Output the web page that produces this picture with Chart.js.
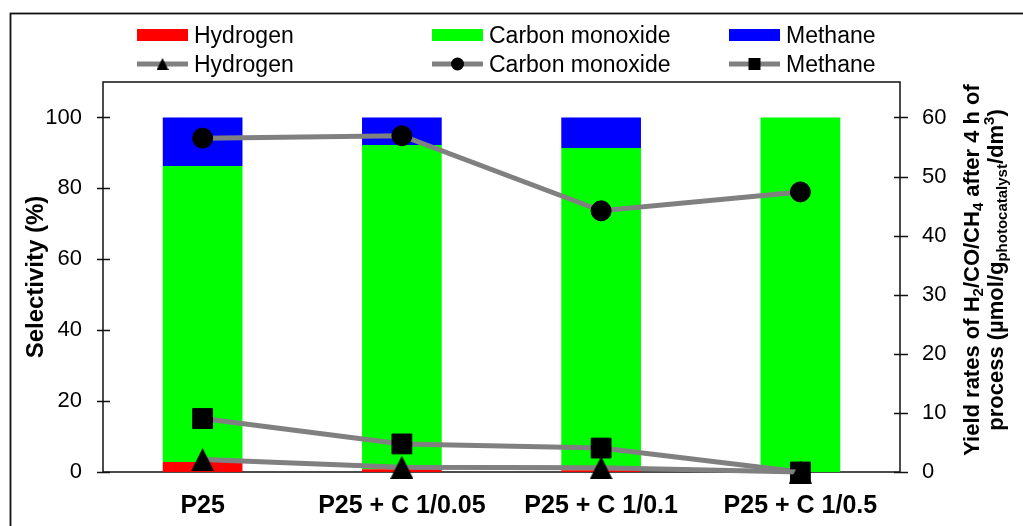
<!DOCTYPE html>
<html>
<head>
<meta charset="utf-8">
<script src="https://cdn.jsdelivr.net/npm/chart.js@4.4.1/dist/chart.umd.min.js"></script>
<style>
  html, body { margin: 0; padding: 0; background: #fff; }
  #wrap { width: 1023px; height: 526px; }
</style>
</head>
<body>
<div id="wrap"><canvas id="c" width="1023" height="526"></canvas></div>
<script>
// Samples
const categories = ['P25', 'P25 + C 1/0.05', 'P25 + C 1/0.1', 'P25 + C 1/0.5'];

// Selectivity (%), stacked bars
const selH2  = [2.8, 0.8, 0.5, 0];
const selCO  = [83.5, 91.4, 90.9, 100];
const selCH4 = [13.7, 7.8, 8.6, 0];

// Yield rates after 4 h (µmol/g/dm³), lines on the right axis
const yieldH2  = [2.1, 0.8, 0.7, 0];
const yieldCO  = [56.5, 56.9, 44.2, 47.4];
const yieldCH4 = [9.05, 4.75, 4.05, 0];

// Tick values
const selectivityTicks = [0, 20, 40, 60, 80, 100];
const yieldTicks = [0, 10, 20, 30, 40, 50, 60];

const FONT = "'Liberation Sans', Arial, sans-serif";
const GREY = '#808080';

// Upward triangle marker, centred on its bounding box
function triangleImage(w, h) {
  const c = document.createElement('canvas');
  c.width = w; c.height = h;
  const g = c.getContext('2d');
  g.fillStyle = '#000';
  g.beginPath();
  g.moveTo(w / 2, 0);
  g.lineTo(w, h);
  g.lineTo(0, h);
  g.closePath();
  g.fill();
  return c;
}
const triBig = triangleImage(23, 23);
const triSmall = triangleImage(12, 12);

// Outer frame of the figure
const outerFrame = {
  id: 'outerFrame',
  beforeDraw(chart) {
    const ctx = chart.ctx;
    ctx.save();
    ctx.strokeStyle = '#111';
    ctx.lineWidth = 1.8;
    ctx.strokeRect(10.5, 13.5, 1200, 700);
    ctx.restore();
  }
};

// Plot box plus tick marks that cross both value axes
const plotFrame = {
  id: 'plotFrame',
  beforeDatasetsDraw(chart) {
    const { ctx, chartArea: a } = chart;
    ctx.save();
    ctx.strokeStyle = '#111';
    ctx.lineWidth = 1.5;
    ctx.strokeRect(a.left, a.top, a.right - a.left, a.bottom - a.top);
    ctx.beginPath();
    chart.scales.y.ticks.forEach(t => {
      const p = Math.round(chart.scales.y.getPixelForValue(t.value)) + 0.5;
      ctx.moveTo(a.left - 6, p); ctx.lineTo(a.left + 7, p);
    });
    chart.scales.y2.ticks.forEach(t => {
      const p = Math.round(chart.scales.y2.getPixelForValue(t.value)) + 0.5;
      ctx.moveTo(a.right - 6, p); ctx.lineTo(a.right + 8, p);
    });
    ctx.stroke();
    ctx.restore();
  }
};

// Two-row legend laid out in fixed columns
const gridLegend = {
  id: 'gridLegend',
  afterDraw(chart) {
    const ctx = chart.ctx;
    const cols = [137, 432, 729];
    const rows = [35, 64];
    ctx.save();
    chart.data.datasets.forEach((ds, i) => {
      const x = cols[i % 3];
      const y = rows[Math.floor(i / 3)];
      if (ds.type === 'line') {
        ctx.strokeStyle = ds.borderColor;
        ctx.lineWidth = 5;
        ctx.beginPath();
        ctx.moveTo(x, y); ctx.lineTo(x + 51, y);
        ctx.stroke();
        const mx = x + 25.5;
        ctx.fillStyle = '#000';
        if (ds.pointStyle === 'circle') {
          ctx.beginPath(); ctx.arc(mx, y, 6.5, 0, Math.PI * 2); ctx.fill();
        } else if (ds.pointStyle === 'rect') {
          ctx.fillRect(mx - 6, y - 6, 12, 12);
        } else {
          ctx.drawImage(triSmall, mx - 6, y - 6);
        }
      } else {
        ctx.fillStyle = ds.backgroundColor;
        ctx.fillRect(x, y - 6, 51, 12);
      }
      ctx.fillStyle = '#000';
      ctx.font = '23px ' + FONT;
      ctx.textBaseline = 'middle';
      ctx.textAlign = 'left';
      ctx.fillText(ds.label, x + 57, y + 2);
    });
    ctx.restore();
  }
};

// Right axis title with sub- and superscripts
function richLine(ctx, parts, cx, cy) {
  const big = 'bold 22px ' + FONT;
  const small = 'bold 15px ' + FONT;
  let total = 0;
  parts.forEach(p => { ctx.font = p[1] ? small : big; total += ctx.measureText(p[0]).width; });
  ctx.save();
  ctx.translate(cx, cy);
  ctx.rotate(-Math.PI / 2);
  ctx.textBaseline = 'middle';
  ctx.textAlign = 'left';
  let x = -total / 2;
  parts.forEach(p => {
    ctx.font = p[1] ? small : big;
    const dy = p[1] === 'sub' ? 6 : p[1] === 'sup' ? -7 : 0;
    ctx.fillText(p[0], x, dy);
    x += ctx.measureText(p[0]).width;
  });
  ctx.restore();
}
const rightTitle = {
  id: 'rightTitle',
  afterDraw(chart) {
    const ctx = chart.ctx;
    ctx.save();
    ctx.fillStyle = '#000';
    richLine(ctx, [['Yield rates of H'], ['2', 'sub'], ['/CO/CH'], ['4', 'sub'], [' after 4 h of']], 973, 270);
    richLine(ctx, [['process (\u00b5mol/g'], ['photocatalyst', 'sub'], ['/dm'], ['3', 'sup'], [')']], 997, 270);
    ctx.restore();
  }
};

new Chart(document.getElementById('c'), {
  data: {
    labels: categories,
    datasets: [
      { type: 'bar', label: 'Hydrogen', data: selH2, backgroundColor: '#ff0000', yAxisID: 'y', order: 1, stack: 's' },
      { type: 'bar', label: 'Carbon monoxide', data: selCO, backgroundColor: '#00ff00', yAxisID: 'y', order: 1, stack: 's' },
      { type: 'bar', label: 'Methane', data: selCH4, backgroundColor: '#0000ff', yAxisID: 'y', order: 1, stack: 's' },
      { type: 'line', label: 'Hydrogen', data: yieldH2, yAxisID: 'y2', order: 0, borderColor: GREY, borderWidth: 5,
        pointStyle: triBig, pointRadius: 12, pointBackgroundColor: '#000', clip: false },
      { type: 'line', label: 'Carbon monoxide', data: yieldCO, yAxisID: 'y2', order: 0, borderColor: GREY, borderWidth: 5,
        pointStyle: 'circle', pointRadius: 10, pointBackgroundColor: '#000', pointBorderColor: '#000', pointBorderWidth: 1, clip: false },
      { type: 'line', label: 'Methane', data: yieldCH4, yAxisID: 'y2', order: 0, borderColor: GREY, borderWidth: 5,
        pointStyle: 'rect', pointRadius: 14, pointBackgroundColor: '#000', pointBorderColor: '#000', pointBorderWidth: 1, clip: false }
    ]
  },
  options: {
    responsive: false,
    animation: false,
    events: [],
    layout: { padding: { top: 82, left: 0, right: 0, bottom: 0 } },
    datasets: { bar: { categoryPercentage: 0.4, barPercentage: 1.0 } },
    plugins: { legend: { display: false }, tooltip: { enabled: false }, title: { display: false } },
    scales: {
      x: {
        stacked: true,
        grid: { display: false, drawTicks: false },
        border: { display: false },
        ticks: { color: '#000', font: { family: FONT, size: 25, weight: 'bold' }, padding: 19, maxRotation: 0, autoSkip: false },
        afterFit(s) { s.height = 54; }
      },
      y: {
        position: 'left',
        stacked: true,
        min: 0, max: 110,
        grid: { display: false, drawTicks: false },
        border: { display: false },
        ticks: { color: '#000', font: { family: FONT, size: 22 }, padding: 21 },
        afterBuildTicks(s) { s.ticks = selectivityTicks.map(v => ({ value: v })); },
        title: { display: true, text: 'Selectivity (%)', color: '#000', font: { family: FONT, size: 24, weight: 'bold' }, padding: { top: 22, bottom: 0 } },
        afterFit(s) { s.width = 103; }
      },
      y2: {
        position: 'right',
        stacked: false,
        min: 0, max: 66,
        grid: { display: false, drawTicks: false },
        border: { display: false },
        ticks: { color: '#000', font: { family: FONT, size: 22 }, padding: 22 },
        afterBuildTicks(s) { s.ticks = yieldTicks.map(v => ({ value: v })); },
        afterFit(s) { s.width = 123; }
      }
    }
  },
  plugins: [outerFrame, plotFrame, gridLegend, rightTitle]
});
</script>
</body>
</html>
